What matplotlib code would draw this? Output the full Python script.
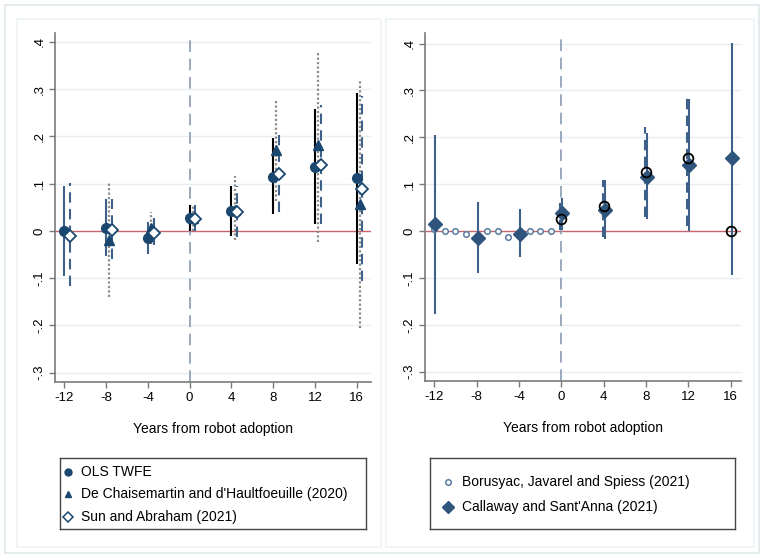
import numpy as np
import matplotlib
matplotlib.use("Agg")
import matplotlib.pyplot as plt
from matplotlib.patches import Rectangle

plt.rcParams['font.family'] = ['Liberation Sans', 'DejaVu Sans']

# ---------------- data ----------------
years = [-12, -8, -4, 0, 4, 8, 12, 16]

ols_est = [0.000, 0.006, -0.016, 0.027, 0.043, 0.115, 0.135, 0.111]
ols_lo = [-0.096, -0.054, -0.049, 0.000, -0.010, 0.036, 0.014, -0.070]
ols_hi = [0.094, 0.068, 0.018, 0.054, 0.096, 0.196, 0.258, 0.291]

dcdh_est = [np.nan, -0.020, 0.006, 0.028, 0.045, 0.171, 0.181, 0.057]
dcdh_lo = [np.nan, -0.140, -0.028, 0.000, -0.020, 0.063, -0.023, -0.205]
dcdh_hi = [np.nan, 0.102, 0.041, 0.052, 0.116, 0.279, 0.379, 0.320]

sa_est = [-0.010, 0.001, -0.005, 0.025, 0.041, 0.121, 0.140, 0.089]
sa_lo = [-0.116, -0.060, -0.030, 0.000, -0.013, 0.040, 0.015, -0.107]
sa_hi = [0.101, 0.068, 0.027, 0.055, 0.094, 0.203, 0.267, 0.286]

bjs_pre_years = [-12, -11, -10, -9, -8, -7, -6, -5, -4, -3, -2, -1]
bjs_pre_est = [0.005, 0.000, 0.000, -0.006, -0.012, 0.000, 0.000, -0.012, -0.005, 0.000, 0.000, 0.000]
bjs_post_years = [0, 4, 8, 12, 16]
bjs_post_est = [0.025, 0.054, 0.127, 0.155, 0.000]
bjs_post_lo = [0.002, -0.012, 0.030, 0.010, np.nan]
bjs_post_hi = [0.070, 0.110, 0.222, 0.292, np.nan]

cs_est = [0.015, -0.014, -0.007, 0.038, 0.045, 0.116, 0.141, 0.155]
cs_lo = [-0.177, -0.089, -0.056, 0.003, -0.016, 0.025, 0.000, -0.094]
cs_hi = [0.205, 0.062, 0.046, 0.070, 0.109, 0.209, 0.281, 0.402]

yticks = [-0.3, -0.2, -0.1, 0, 0.1, 0.2, 0.3, 0.4]
ytick_labels = ["-.3", "-.2", "-.1", "0", ".1", ".2", ".3", ".4"]
xticks = [-12, -8, -4, 0, 4, 8, 12, 16]
xtick_labels = ["-12", "-8", "-4", "0", "4", "8", "12", "16"]
xlabel = "Years from robot adoption"

left_labels = ["OLS TWFE", "De Chaisemartin and d'Haultfoeuille (2020)", "Sun and Abraham (2021)"]
right_labels = ["Borusyac, Javarel and Spiess (2021)", "Callaway and Sant'Anna (2021)"]

# ---------------- style ----------------
NAVY = "#1a476f"
NAVY_L = "#3d6188"
GRID = "#e6eef0"
AXC = "#7a7a7a"
RED = "#c9646e"
VDASH = "#8a9bb3"

W, H = 764, 558
fig = plt.figure(figsize=(W / 100, H / 100), dpi=100)

def px_rect(x0, y0, x1, y1):
    return [x0 / W, 1 - y1 / H, (x1 - x0) / W, (y1 - y0) / H]

# frames
fig.patches.append(Rectangle((5 / W, 1 - 553 / H), 749 / W + 5 / W, 548 / H,
                             transform=fig.transFigure, fill=False, ec="#dfe8eb", lw=1.2))
fig.patches.append(Rectangle((17 / W, 1 - 547 / H), (381 - 17) / W, (547 - 19) / H,
                             transform=fig.transFigure, fill=False, ec="#edf3f4", lw=1.2))
fig.patches.append(Rectangle((386 / W, 1 - 547 / H), (754 - 386) / W, (547 - 19) / H,
                             transform=fig.transFigure, fill=False, ec="#edf3f4", lw=1.2))


def style_axes(ax, xlim, ylim):
    ax.set_xlim(*xlim)
    ax.set_ylim(*ylim)
    for s in ("top", "right"):
        ax.spines[s].set_visible(False)
    for s in ("left", "bottom"):
        ax.spines[s].set_color(AXC)
        ax.spines[s].set_linewidth(1.2)
    ax.set_yticks(yticks)
    ax.set_yticklabels(ytick_labels, rotation=90, va="center")
    ax.set_xticks(xticks)
    ax.set_xticklabels(xtick_labels)
    ax.tick_params(axis="both", colors=AXC, labelcolor="black", labelsize=9.5,
                   length=4, width=1)
    ax.tick_params(axis="y", pad=3)
    ax.tick_params(axis="x", pad=3)
    for yv in yticks:
        if yv != 0:
            ax.axhline(yv, color=GRID, lw=1, zorder=0)
    ax.axhline(0, color=RED, lw=1, zorder=1)
    ax.axvline(0, ymax=0.985, color=VDASH, lw=1.2, dashes=(7, 4), zorder=1)
    ax.set_xlabel(xlabel, fontsize=10, labelpad=13)
    ax.set_facecolor("none")


# ---------------- left panel ----------------
axL = fig.add_axes(px_rect(55, 33, 371, 382))
style_axes(axL, (-12.89, 17.37), (-0.32, 0.419))

yrs = np.array(years, dtype=float)
for i, yv in enumerate(years):
    c = NAVY_L if yv < 0 else "black"
    axL.vlines(yv, ols_lo[i], ols_hi[i], color=c, lw=1.5, zorder=3)
axL.vlines(yrs + 0.3, dcdh_lo, dcdh_hi, color="#8c8c8c", lw=1.6,
           linestyles=[(0, (1, 1))], zorder=3)
axL.vlines(yrs + 0.55, sa_lo, sa_hi, color=NAVY_L, lw=1.5,
           linestyles=[(0, (5, 3))], zorder=3)
axL.plot(yrs, ols_est, "o", color=NAVY, ms=7, zorder=5, ls="none")
axL.plot(yrs + 0.3, dcdh_est, "^", color=NAVY, ms=7, zorder=5, ls="none")
axL.plot(yrs + 0.55, sa_est, "D", mfc="white", mec=NAVY, mew=1.3, ms=6.5, zorder=6, ls="none")

# ---------------- right panel ----------------
axR = fig.add_axes(px_rect(425.3, 33.3, 740.7, 381))
style_axes(axR, (-12.85, 16.95), (-0.32, 0.422))

axR.vlines(np.array(bjs_post_years) - 0.08, bjs_post_lo, bjs_post_hi, color=NAVY_L,
           lw=1.5, linestyles=[(0, (5, 3))], zorder=3)
axR.vlines(yrs + 0.1, cs_lo, cs_hi, color=NAVY_L, lw=1.5, zorder=3)
axR.plot(bjs_pre_years, bjs_pre_est, "o", mfc="white", mec="#5a7ca3", mew=1.1, ms=4,
         zorder=4, ls="none")
axR.plot(bjs_post_years, bjs_post_est, "o", mfc="none", mec="black", mew=1.3, ms=7,
         zorder=6, ls="none")
axR.plot(yrs + 0.1, cs_est, "D", color="#2f557c", ms=7, zorder=5, ls="none")

# ---------------- legends ----------------
def legend_box(rect, entries):
    ax = fig.add_axes(rect)
    ax.set_xlim(0, 1)
    ax.set_ylim(0, 1)
    ax.set_xticks([])
    ax.set_yticks([])
    for s in ax.spines.values():
        s.set_color("#444444")
        s.set_linewidth(1.0)
    return ax

lg = legend_box(px_rect(60, 458, 366, 529), None)
lh = 529 - 458
lw_ = 366 - 60
ys_left = [472, 494, 517]
lg.plot([(68 - 60) / lw_], [1 - (ys_left[0] - 458) / lh], "o", color=NAVY, ms=5)
lg.plot([(68 - 60) / lw_], [1 - (ys_left[1] - 458) / lh], "^", color=NAVY, ms=5)
lg.plot([(68 - 60) / lw_], [1 - (ys_left[2] - 458) / lh], "D", mfc="white", mec=NAVY,
        mew=1.1, ms=5)
for lab, yy in zip(left_labels, ys_left):
    lg.text((81 - 60) / lw_, 1 - (yy - 458) / lh, lab, fontsize=10, va="center", ha="left")

rg = legend_box(px_rect(430, 458, 735, 529), None)
rw = 735 - 430
ys_right = [482, 507]
rg.plot([(448 - 430) / rw], [1 - (ys_right[0] - 458) / lh], "o", mfc="white", mec="#5a7ca3",
        mew=1.1, ms=4)
rg.plot([(448 - 430) / rw], [1 - (ys_right[1] - 458) / lh], "D", color="#2f557c", ms=6)
for lab, yy in zip(right_labels, ys_right):
    rg.text((462 - 430) / rw, 1 - (yy - 458) / lh, lab, fontsize=10, va="center", ha="left")

fig.savefig("out.png", dpi=100)
